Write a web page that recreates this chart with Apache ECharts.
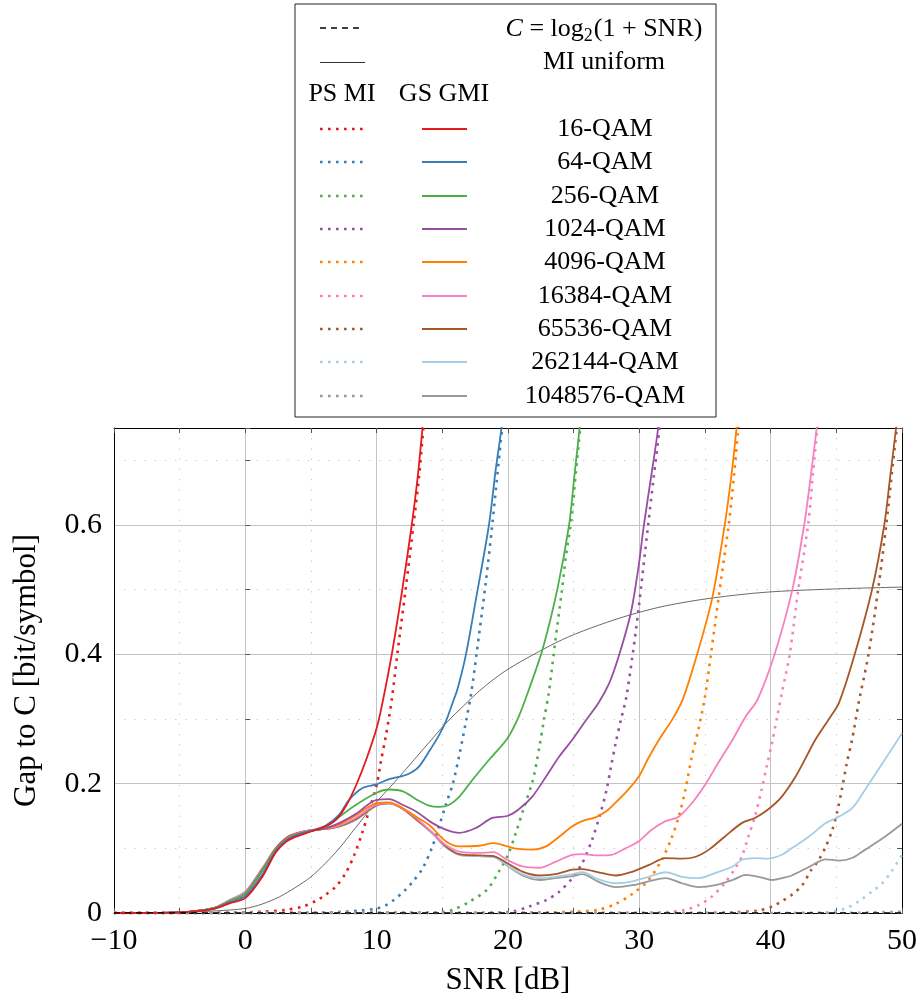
<!DOCTYPE html>
<html>
<head>
<meta charset="utf-8">
<script src="https://cdn.jsdelivr.net/npm/echarts@6/dist/echarts.min.js"></script>
<style>html,body{margin:0;padding:0;background:#fff;}#c{width:922px;height:999px;}</style>
</head>
<body>
<div id="c"></div>
<script>
// ---- data: [SNR dB, gap to capacity bit/symbol] ----
const constellations = ['16-QAM','64-QAM','256-QAM','1024-QAM','4096-QAM','16384-QAM','65536-QAM','262144-QAM','1048576-QAM'];
const xTicks = [-10, 0, 10, 20, 30, 40, 50];
const yTicks = [0, 0.2, 0.4, 0.6];

const capacityGap = [[-10,0],[50,0]];
const miUniform = [[-10,0],[-5,0.001],[-2.5,0.003],[0,0.007],[1.3,0.014],[2.6,0.025],[3.85,0.04],[5,0.056],[6.1,0.077],[7.15,0.1],[8.4,0.132],[9.3,0.155],[10,0.172],[11.7,0.21],[14,0.264],[15.3,0.294],[16.8,0.324],[18.2,0.35],[20,0.377],[22.7,0.408],[24.6,0.427],[26.9,0.445],[29.3,0.461],[32,0.475],[35.5,0.487],[39.6,0.496],[44.7,0.501],[50,0.504]];

const ps16 = [[-10,0],[-2.5,0],[1.3,0.002],[3.1,0.005],[4.4,0.01],[5.4,0.019],[6.1,0.028],[6.9,0.041],[7.65,0.062],[8.3,0.09],[8.9,0.124],[9.4,0.157],[10,0.198],[10.3,0.232],[10.7,0.274],[11.15,0.33],[11.57,0.4],[12.2,0.5],[12.8,0.6],[13.2,0.67],[13.56,0.75],[13.8,0.8]];
const ps64 = [[-10,0],[5,0],[7.5,0.002],[8.9,0.004],[10,0.007],[10.7,0.012],[11.3,0.02],[12.2,0.036],[12.85,0.051],[13.5,0.069],[14.25,0.103],[14.75,0.134],[15.26,0.167],[15.8,0.2],[16.3,0.245],[16.8,0.296],[17.2,0.34],[17.6,0.4],[18.3,0.51],[18.8,0.6],[19.1,0.66],[19.45,0.73],[19.6,0.76],[19.75,0.8]];
const ps256 = [[-10,0],[12,0],[14.75,0.001],[15.8,0.005],[17.1,0.018],[18.4,0.036],[19.3,0.064],[20,0.09],[20.6,0.124],[21.2,0.162],[21.9,0.206],[22.4,0.258],[22.74,0.299],[23.1,0.34],[23.6,0.42],[24.1,0.498],[24.4,0.55],[24.85,0.612],[25.15,0.679],[25.5,0.75],[25.7,0.8]];
const ps1024 = [[-10,0],[18,0],[20.3,0.002],[21.6,0.01],[22.9,0.02],[23.9,0.033],[24.9,0.054],[25.65,0.077],[26.4,0.113],[27.05,0.155],[27.5,0.19],[27.85,0.227],[28.2,0.263],[28.6,0.299],[29.0,0.333],[29.46,0.395],[29.91,0.465],[30.67,0.6],[31.1,0.675],[31.53,0.75],[31.7,0.8]];
const ps4096 = [[-10,0],[20,0],[22.9,0.001],[25.15,0.002],[26.9,0.005],[28.2,0.014],[29.5,0.03],[30.7,0.051],[31.7,0.082],[32.4,0.113],[33,0.149],[33.5,0.19],[34,0.242],[34.5,0.284],[35,0.335],[35.45,0.4],[36.05,0.49],[36.8,0.6],[37.2,0.675],[37.52,0.75],[37.7,0.8]];
const ps16384 = [[-10,0],[30,0],[32,0.001],[33.5,0.005],[34.5,0.012],[35.5,0.025],[36.5,0.046],[37.3,0.069],[37.8,0.087],[38.3,0.118],[38.8,0.149],[39.3,0.19],[39.7,0.227],[40.1,0.263],[40.5,0.304],[40.9,0.345],[41.45,0.4],[42.1,0.5],[42.85,0.6],[43.2,0.675],[43.55,0.75],[43.75,0.8]];
const ps65536 = [[-10,0],[35,0],[37.1,0.001],[39.1,0.004],[40.1,0.01],[40.9,0.019],[41.6,0.028],[42.4,0.043],[43.1,0.067],[43.6,0.08],[44.2,0.103],[44.7,0.129],[45.05,0.155],[45.42,0.191],[45.8,0.232],[46.2,0.268],[46.7,0.325],[47.45,0.4],[48.2,0.503],[48.8,0.6],[49.2,0.675],[49.6,0.75],[49.8,0.8]];
const ps262144 = [[-10,0],[40,0],[44.2,0.001],[45.7,0.007],[46.7,0.018],[47.7,0.033],[48.5,0.046],[49.2,0.064],[50,0.09]];
const ps1048576 = [[-10,0],[45,0],[50,0.002]];

const gs16 = [[-10,0],[-5,0.001],[-2.5,0.006],[-1.2,0.015],[0,0.023],[1.3,0.056],[2.3,0.093],[3.1,0.11],[3.85,0.118],[5,0.126],[6.1,0.134],[6.9,0.144],[7.65,0.165],[8.4,0.196],[9.2,0.237],[10,0.286],[10.44,0.325],[11.15,0.4],[11.95,0.5],[12.67,0.6],[13.1,0.67],[13.49,0.75],[13.7,0.8]];
const gs64 = [[-10,0],[-5,0.001],[-2.5,0.006],[-1.2,0.016],[0,0.026],[1.3,0.06],[2.3,0.095],[3.1,0.112],[3.85,0.12],[5,0.127],[6.1,0.135],[7.15,0.152],[7.9,0.175],[8.9,0.193],[10,0.199],[10.95,0.207],[12,0.212],[12.6,0.217],[13.2,0.226],[14,0.25],[14.75,0.275],[15.3,0.298],[15.8,0.326],[16.15,0.346],[16.8,0.4],[17.6,0.49],[18.55,0.6],[19.06,0.685],[19.5,0.75],[19.7,0.8]];
const gs256 = [[-10,0],[-5,0.001],[-2.5,0.007],[-1.2,0.018],[0,0.03],[1.3,0.066],[2.3,0.097],[3.1,0.113],[3.85,0.121],[5,0.127],[6.1,0.133],[6.9,0.145],[8.4,0.167],[10,0.186],[10.95,0.191],[12,0.188],[13,0.176],[14,0.166],[14.75,0.164],[15.5,0.167],[16.3,0.18],[17.3,0.206],[18.56,0.237],[19.95,0.27],[20.84,0.305],[21.6,0.346],[22.65,0.409],[23.75,0.5],[24.65,0.6],[25.05,0.675],[25.45,0.75],[25.65,0.8]];
const gs1024 = [[-10,0],[-5,0.001],[-2.5,0.007],[-1.2,0.018],[0,0.03],[1.3,0.066],[2.3,0.097],[3.1,0.113],[3.85,0.121],[5,0.127],[6.1,0.131],[7.15,0.139],[8.4,0.153],[10,0.175],[10.95,0.176],[12,0.167],[13,0.157],[14.25,0.139],[15.26,0.129],[16.3,0.124],[17.5,0.131],[18.8,0.147],[19.95,0.15],[20.8,0.16],[21.85,0.18],[22.9,0.211],[23.9,0.242],[24.9,0.268],[25.9,0.297],[26.9,0.325],[27.7,0.355],[28.4,0.395],[29.33,0.462],[29.9,0.53],[30.35,0.6],[30.9,0.675],[31.43,0.75],[31.6,0.8]];
const gs4096 = [[-10,0],[-5,0.001],[-2.5,0.007],[-1.2,0.018],[0,0.03],[1.3,0.066],[2.3,0.097],[3.1,0.113],[3.85,0.121],[5,0.127],[6.1,0.131],[7.15,0.137],[8.4,0.151],[10,0.17],[10.95,0.171],[12,0.162],[13,0.149],[14,0.136],[15.26,0.111],[16.3,0.103],[17.8,0.104],[18.9,0.108],[19.95,0.103],[20.8,0.099],[21.85,0.098],[22.9,0.103],[23.9,0.118],[24.9,0.134],[25.65,0.142],[26.66,0.148],[27.4,0.156],[27.9,0.165],[28.95,0.186],[29.96,0.211],[30.7,0.24],[31.5,0.268],[32.5,0.299],[33.3,0.33],[34.4,0.4],[35.55,0.487],[36.5,0.6],[37.0,0.675],[37.4,0.75],[37.6,0.8]];
const gs16384 = [[-10,0],[-5,0.001],[-2.5,0.007],[-1.2,0.019],[0,0.032],[1.3,0.068],[2.3,0.098],[3.1,0.114],[3.85,0.122],[5,0.128],[6.1,0.13],[7.15,0.135],[8.4,0.147],[10,0.168],[10.95,0.17],[12,0.161],[13,0.147],[14.25,0.124],[15.26,0.105],[16.3,0.095],[17.8,0.093],[18.9,0.094],[19.95,0.082],[21.1,0.072],[22.4,0.07],[23.6,0.079],[24.9,0.09],[25.65,0.091],[26.9,0.089],[27.9,0.09],[28.95,0.1],[29.96,0.111],[30.96,0.129],[32,0.142],[33,0.149],[34,0.17],[35,0.198],[36,0.232],[37.1,0.268],[38.1,0.304],[39,0.33],[40.3,0.4],[41.65,0.5],[42.55,0.6],[43.05,0.675],[43.5,0.75],[43.7,0.8]];
const gs65536 = [[-10,0],[-5,0.001],[-2.5,0.007],[-1.2,0.019],[0,0.032],[1.3,0.069],[2.3,0.1],[3.1,0.116],[3.85,0.123],[5,0.128],[6.1,0.13],[7.15,0.134],[8.4,0.145],[10,0.167],[10.95,0.17],[12,0.161],[13,0.145],[14.25,0.124],[15.26,0.103],[16.3,0.091],[17.8,0.089],[18.9,0.088],[19.95,0.077],[21.1,0.064],[22.4,0.058],[23.6,0.06],[24.9,0.067],[25.65,0.068],[26.9,0.063],[28.2,0.058],[29.5,0.064],[30.7,0.074],[32,0.085],[33.25,0.084],[34.3,0.087],[35.3,0.098],[36.5,0.118],[37.8,0.139],[38.8,0.147],[39.8,0.16],[40.85,0.18],[41.9,0.211],[42.8,0.245],[43.4,0.268],[44.4,0.299],[45.2,0.325],[46.4,0.4],[47.75,0.503],[48.65,0.6],[49.1,0.675],[49.55,0.75],[49.8,0.8]];
const gs262144 = [[-10,0],[-5,0.001],[-2.5,0.007],[-1.2,0.02],[0,0.033],[0.8,0.054],[1.8,0.082],[2.8,0.108],[3.85,0.122],[5,0.128],[6.1,0.13],[7.15,0.134],[8.4,0.144],[10,0.167],[10.95,0.17],[12,0.161],[13,0.145],[14.25,0.123],[15.26,0.102],[16.3,0.09],[17.8,0.088],[18.9,0.087],[19.95,0.074],[21.1,0.06],[22.4,0.054],[23.6,0.056],[24.9,0.06],[25.65,0.063],[26.9,0.052],[28.2,0.046],[29.5,0.049],[30.7,0.056],[32,0.063],[33.25,0.056],[34.5,0.054],[35.8,0.062],[37.1,0.072],[37.8,0.082],[38.8,0.085],[39.8,0.084],[40.85,0.09],[41.6,0.1],[42.9,0.118],[44.2,0.139],[45.2,0.149],[46.2,0.162],[47.2,0.191],[48.2,0.222],[49.2,0.253],[50,0.278]];
const gs1048576 = [[-10,0],[-5,0.001],[-2.5,0.007],[-1.2,0.02],[0,0.033],[0.8,0.054],[1.8,0.082],[2.8,0.107],[3.85,0.122],[5,0.128],[6.1,0.13],[7.15,0.134],[8.4,0.144],[10,0.166],[10.95,0.169],[12,0.161],[13,0.145],[14.25,0.123],[15.26,0.102],[16.3,0.09],[17.8,0.088],[18.9,0.087],[19.95,0.073],[21.1,0.058],[22.4,0.051],[23.6,0.054],[24.9,0.057],[25.65,0.06],[26.9,0.048],[28.2,0.04],[29.5,0.043],[30.7,0.049],[32,0.054],[33.25,0.046],[34.5,0.04],[35.8,0.043],[37.1,0.051],[38.1,0.059],[39.1,0.056],[40.1,0.051],[41.1,0.055],[41.6,0.058],[42.9,0.071],[44.2,0.083],[45.2,0.081],[46.2,0.085],[47.2,0.098],[48.7,0.118],[50,0.138]];

const psSeries = [ps16, ps64, ps256, ps1024, ps4096, ps16384, ps65536, ps262144, ps1048576];
const gsSeries = [gs16, gs64, gs256, gs1024, gs4096, gs16384, gs65536, gs262144, gs1048576];
const colors = ['#e41a1c','#377eb8','#4daf4a','#984ea3','#ff7f00','#f781bf','#a65628','#a6cee3','#999999'];

// ---- chart ----
const FONT = '"Liberation Serif", "DejaVu Serif", serif';
const chart = echarts.init(document.getElementById('c'), null, {renderer: 'canvas'});
const gridL = 114, gridR = 20, gridT = 428, gridB = 86;
const fmtX = v => (v < 0 ? '\u2212' + (-v) : String(v));
const SM = 0.3;

const series = [];
series.push({name: 'MI uniform', type: 'line', data: miUniform, symbol: 'none', smooth: SM,
  lineStyle: {color: '#444', width: 0.8}, z: 3});
psSeries.forEach((d, i) => series.push({name: 'PS ' + constellations[i], type: 'line', data: d, symbol: 'none',
  smooth: SM, lineStyle: {color: colors[i], width: 2.6, type: [2.6, 5.4], cap: 'butt'}, z: 4}));
gsSeries.forEach((d, i) => series.push({name: 'GS ' + constellations[i], type: 'line', data: d, symbol: 'none',
  smooth: SM, lineStyle: {color: colors[i], width: 1.8}, z: 5 + (8 - i) * 0.01}));
series.push({name: 'C', type: 'line', data: capacityGap, symbol: 'none',
  lineStyle: {color: '#000', width: 1.5, type: [6, 5]}, z: 6});
series.forEach(s => { s.clip = true; s.silent = true; });

// legend (drawn as graphics)
const gfx = [];
const lgX = 295, lgY = 4, lgW = 421, lgH = 413;
const LF = '26px ' + FONT;
gfx.push({type: 'rect', shape: {x: lgX, y: lgY, width: lgW, height: lgH}, style: {fill: '#fff', stroke: '#222', lineWidth: 1}, z: 100});
const txt = (x, y, text, extra) => gfx.push(Object.assign({type: 'text', x: x, y: y, z: 101,
  style: Object.assign({text: text, font: LF, fill: '#000', textAlign: 'center', textVerticalAlign: 'middle'}, (extra || {}))}));
const seg = (x1, x2, y, st) => gfx.push({type: 'line', z: 101, shape: {x1: x1, y1: y, x2: x2, y2: y}, style: st});
seg(320, 362, 28, {stroke: '#000', lineWidth: 1.5, lineDash: [6, 5]});
gfx.push({type: 'text', x: 604, y: 29, z: 101, style: {text: '{i|C} = log{s|2}(1 + SNR)', font: LF, fill: '#000', textAlign: 'center', textVerticalAlign: 'middle',
  rich: {i: {font: 'italic 26px ' + FONT}, s: {font: '18px ' + FONT, padding: [14, 1, 0, 0]}}}});
seg(320, 365, 62.5, {stroke: '#333', lineWidth: 1});
txt(604, 62, 'MI uniform');
txt(342, 94, 'PS MI');
txt(444, 94, 'GS GMI');
const rowY = [129, 162, 196, 229, 262, 296, 329, 362, 396];
constellations.forEach((name, i) => {
  seg(320, 367, rowY[i], {stroke: colors[i], lineWidth: 2.6, lineDash: [2.6, 5.4]});
  seg(422, 467, rowY[i], {stroke: colors[i], lineWidth: 1.8});
  txt(605, rowY[i], name);
});

const option = {
  animation: false,
  backgroundColor: '#fff',
  grid: {left: gridL, right: gridR, top: gridT, bottom: gridB, containLabel: false},
  xAxis: [
    {type: 'value', min: -10, max: 50, interval: 10, position: 'bottom',
     name: 'SNR [dB]', nameLocation: 'middle', nameGap: 52,
     nameTextStyle: {fontFamily: FONT, fontSize: 31, color: '#000'},
     axisLine: {show: true, onZero: false, lineStyle: {color: '#000', width: 1}},
     axisTick: {show: true, inside: true, length: 5, lineStyle: {color: '#555'}},
     minorTick: {show: true, splitNumber: 2, length: 5, lineStyle: {color: '#555'}},
     axisLabel: {fontFamily: FONT, fontSize: 30, color: '#000', margin: 13, formatter: fmtX},
     splitLine: {show: true, lineStyle: {color: '#c4c4c4', width: 1}},
     minorSplitLine: {show: true, lineStyle: {color: '#c4c4c4', width: 1, type: [1.2, 9]}}},
    {type: 'value', min: -10, max: 50, interval: 5, position: 'top',
     axisLine: {show: true, onZero: false, lineStyle: {color: '#000', width: 1}},
     axisTick: {show: true, inside: true, length: 5, lineStyle: {color: '#555'}},
     axisLabel: {show: false}, splitLine: {show: false}}
  ],
  yAxis: [
    {type: 'value', min: 0, max: 0.75, interval: 0.2, position: 'left',
     name: 'Gap to C [bit/symbol]', nameLocation: 'middle', nameGap: 72,
     nameTextStyle: {fontFamily: FONT, fontSize: 31, color: '#000'},
     axisLine: {show: true, onZero: false, lineStyle: {color: '#000', width: 1}},
     axisTick: {show: false},
     axisLabel: {fontFamily: FONT, fontSize: 30, color: '#000', margin: 12, showMaxLabel: false,
       formatter: v => (yTicks.indexOf(Math.round(v * 10) / 10) >= 0 ? String(Math.round(v * 10) / 10) : '')},
     splitLine: {show: true, lineStyle: {color: '#c4c4c4', width: 1}}},
    {type: 'value', min: 0, max: 0.75, interval: 0.1, position: 'left',
     axisLine: {show: false}, axisLabel: {show: false},
     axisTick: {show: true, inside: true, length: 5, lineStyle: {color: '#555'}},
     splitLine: {show: true, lineStyle: {color: '#c4c4c4', width: 1, type: [1.2, 9]}}},
    {type: 'value', min: 0, max: 0.75, interval: 0.1, position: 'right',
     axisLine: {show: true, onZero: false, lineStyle: {color: '#000', width: 1}}, axisLabel: {show: false},
     axisTick: {show: true, inside: true, length: 5, lineStyle: {color: '#555'}},
     splitLine: {show: false}}
  ],
  series: series,
  graphic: gfx
};
chart.setOption(option);
</script>
</body>
</html>
